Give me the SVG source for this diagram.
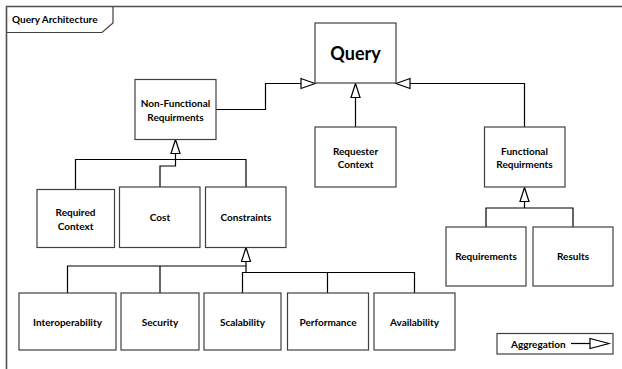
<svg xmlns="http://www.w3.org/2000/svg" width="622" height="369" viewBox="0 0 622 369">
  <style>
    .box { fill: #ffffff; stroke: #404040; stroke-width: 1.2; }
    .lbl { font-family: Lato, "Open Sans", "Liberation Sans", sans-serif; font-weight: bold; font-size: 10px; fill: #000000; text-anchor: middle; dominant-baseline: central; }
    .wire { fill: none; stroke: #000000; stroke-width: 1.2; }
    .head { fill: #ffffff; stroke: #000000; stroke-width: 1.2; }
  </style>
  <defs>
    <!-- hollow triangle pointing up, tip at origin -->
    <polygon id="tri-up" class="head" points="0,0 -4.5,14 4.5,14"/>
  </defs>

  <rect width="622" height="369" fill="#ffffff"/>

  <!-- frame -->
  <g id="frame">
    <path d="M6.5,369 V6.5 H622" fill="none" stroke="#505050" stroke-width="1.6"/>
    <path d="M6.5,32.5 H102 L113,23 V6.5" fill="none" stroke="#404040" stroke-width="1.2"/>
    <text x="12" y="19" class="lbl" style="text-anchor:start">Query Architecture</text>
  </g>

  <!-- connectors -->
  <g id="connectors">
    <path class="wire" d="M216,109.5 H265.5 V83.5 H301"/>
    <polygon class="head" points="315,83.5 301,78.5 301,88.5"/>
    <path class="wire" d="M524.5,127 V83.5 H410"/>
    <polygon class="head" points="396,83.5 410,78.5 410,88.5"/>
    <path class="wire" d="M355.5,127 V97"/>
    <use href="#tri-up" x="355.5" y="83.5"/>

    <path class="wire" d="M75.5,189 V159.5 H246 V187"/>
    <path class="wire" d="M160,187 V166 H175.5 V153"/>
    <use href="#tri-up" x="175.5" y="139.5"/>

    <path class="wire" d="M67.5,293 V266 H246"/>
    <path class="wire" d="M160,293 V266"/>
    <path class="wire" d="M246,261 V272.5"/>
    <path class="wire" d="M242.5,293 V272.5 H414.5 V293"/>
    <path class="wire" d="M327.5,293 V272.5"/>
    <use href="#tri-up" x="246" y="247.5"/>

    <path class="wire" d="M486,227 V208 H573 V227"/>
    <path class="wire" d="M524.5,201 V208"/>
    <use href="#tri-up" x="524.5" y="187.5"/>
  </g>

  <g id="query">
    <rect class="box" x="315" y="23" width="81" height="60"/>
    <text x="355.5" y="53" class="lbl" style="font-size:18px">Query</text>
  </g>
  <g id="non-functional">
    <rect class="box" x="135" y="79.5" width="81" height="60"/>
    <text x="175.5" y="102.5" class="lbl">Non-Functional</text>
    <text x="175.5" y="116.5" class="lbl">Requirments</text>
  </g>
  <g id="requester-context">
    <rect class="box" x="315" y="127" width="81" height="60"/>
    <text x="355.5" y="150.5" class="lbl">Requester</text>
    <text x="355.5" y="164" class="lbl">Context</text>
  </g>
  <g id="functional">
    <rect class="box" x="484.5" y="127" width="80.5" height="60"/>
    <text x="524.5" y="150.5" class="lbl">Functional</text>
    <text x="524.5" y="164" class="lbl">Requirments</text>
  </g>
  <g id="required-context">
    <rect class="box" x="37" y="189.5" width="77.5" height="58"/>
    <text x="75.5" y="212" class="lbl">Required</text>
    <text x="75.5" y="225.5" class="lbl">Context</text>
  </g>
  <g id="cost">
    <rect class="box" x="119.5" y="187" width="80.5" height="60.5"/>
    <text x="160" y="217" class="lbl">Cost</text>
  </g>
  <g id="constraints">
    <rect class="box" x="205.5" y="187" width="80.5" height="60.5"/>
    <text x="246" y="217" class="lbl">Constraints</text>
  </g>
  <g id="requirements">
    <rect class="box" x="446" y="227" width="80" height="59"/>
    <text x="486" y="256" class="lbl">Requirements</text>
  </g>
  <g id="results">
    <rect class="box" x="533" y="227" width="80" height="59"/>
    <text x="573" y="256" class="lbl">Results</text>
  </g>
  <g id="interoperability">
    <rect class="box" x="19" y="293" width="97" height="57"/>
    <text x="67.5" y="321.5" class="lbl">Interoperability</text>
  </g>
  <g id="security">
    <rect class="box" x="121" y="293" width="78" height="57"/>
    <text x="160" y="321.5" class="lbl">Security</text>
  </g>
  <g id="scalability">
    <rect class="box" x="204" y="293" width="77" height="57"/>
    <text x="242.5" y="321.5" class="lbl">Scalability</text>
  </g>
  <g id="performance">
    <rect class="box" x="287.5" y="293" width="81" height="57"/>
    <text x="328" y="321.5" class="lbl">Performance</text>
  </g>
  <g id="availability">
    <rect class="box" x="374" y="293" width="81" height="57"/>
    <text x="414.5" y="321.5" class="lbl">Availability</text>
  </g>

  <g id="legend">
    <rect class="box" x="497" y="333.5" width="116" height="20.5"/>
    <text x="511" y="343.5" class="lbl" style="text-anchor:start">Aggregation</text>
    <path class="wire" d="M571,343.5 H590"/>
    <polygon class="head" points="609,343.5 590,338.5 590,348.5"/>
  </g>
</svg>
